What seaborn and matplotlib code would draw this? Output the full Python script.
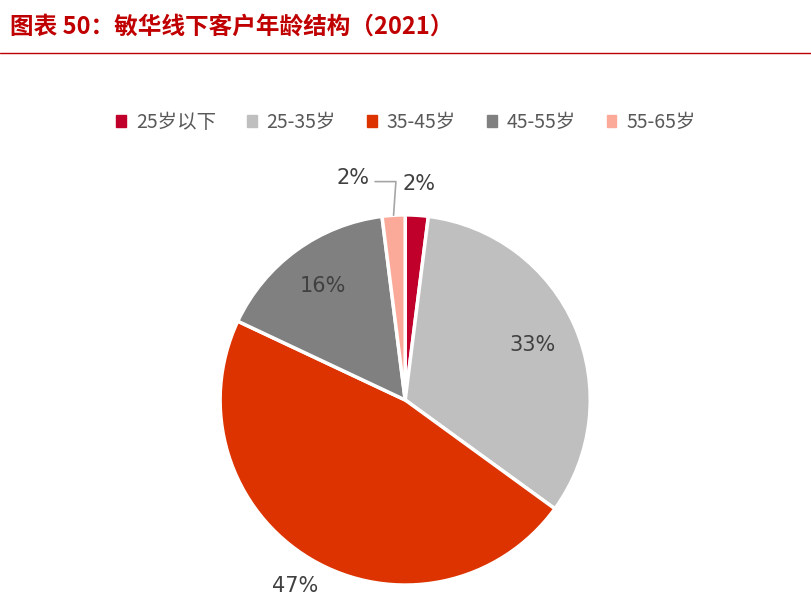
import numpy as np
import matplotlib
matplotlib.use("Agg")
import matplotlib.pyplot as plt
import seaborn as sns

categories = ["25岁以下", "25-35岁", "35-45岁", "45-55岁", "55-65岁"]
values = [2, 33, 47, 16, 2]
labels = ["2%", "33%", "47%", "16%", "2%"]
colors = ["#C0002A", "#BFBFBF", "#DD3300", "#808080", "#FBAA9A"]

sns.set_theme(style="white")
plt.rcParams['font.family'] = ['Noto Sans CJK SC', 'DejaVu Sans']

fig = plt.figure(figsize=(8.12, 5.97), dpi=100)
fig.text(0.012, 0.955, "图表 50：敏华线下客户年龄结构（2021）", color="#C00000",
         fontsize=17, fontweight="bold", style="italic", va="center")
fig.add_artist(plt.Line2D([0.0, 1.0], [0.912, 0.912], color="#C00000", lw=1))

ax = fig.add_axes([0.271, 0.02, 0.456, 0.62])
wedges, _ = ax.pie(values, colors=colors, startangle=90, counterclock=False,
                   wedgeprops=dict(edgecolor="white", linewidth=2.5))
ax.set_xlim(-1.0, 1.0); ax.set_ylim(-1.0, 1.0)
ax.set_aspect("equal")

dist = [1.17, 0.75, 1.17, 0.76, None]
for w, lab, d in zip(wedges, labels, dist):
    ang = np.deg2rad((w.theta1 + w.theta2) / 2)
    if d is not None:
        ax.text(d * np.cos(ang), d * np.sin(ang), lab, ha="center", va="center",
                fontsize=15, color="#404040", family=["DejaVu Sans"])
    else:
        x0, y0 = np.cos(ang), np.sin(ang)
        ax.plot([x0, x0 * 0.8, x0 - 0.1], [y0, 1.18, 1.18], color="#A6A6A6", lw=1.2,
                clip_on=False)
        ax.text(x0 - 0.13, 1.2, lab, ha="right", va="center", fontsize=15,
                color="#404040", family=["DejaVu Sans"])

handles = [plt.Rectangle((0, 0), 1, 1, color=c) for c in colors]
fig.legend(handles, categories, loc="center", bbox_to_anchor=(0.5, 0.795), ncol=5,
           frameon=False, fontsize=14, handlelength=0.5, handleheight=0.5,
           columnspacing=1.6, handletextpad=0.5, labelcolor="#595959")

fig.savefig("out.png", dpi=100)
